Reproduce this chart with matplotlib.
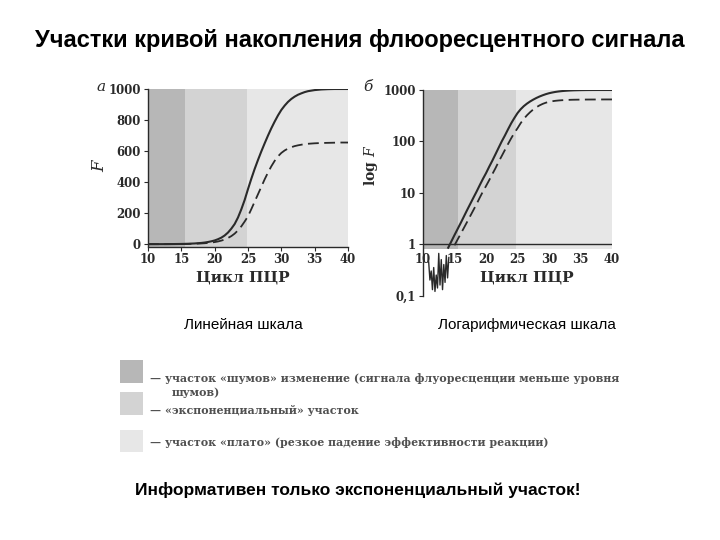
import numpy as np
import matplotlib.pyplot as plt
from matplotlib.patches import Rectangle

# PCR cycles and fluorescence
CYCLE = [10, 11, 12, 13, 14, 15, 16, 17,
         18, 18.5, 19, 19.5, 20, 20.5, 21, 21.5, 22, 22.5, 23, 23.5, 24, 24.5, 25, 25.5,
         26, 26.5, 27, 27.5, 28, 28.5, 29, 29.5, 30, 30.5, 31, 31.5, 32, 32.5, 33, 33.5, 34,
         35, 36, 37, 38, 39, 40]
F_SOLID = [0.08, 0.14, 0.25, 0.45, 0.85, 1.5, 2.6, 4.6,
           8, 10.5, 14, 18.5, 24, 32, 42, 56, 75, 100, 130, 172, 225, 285, 355, 422,
           485, 543, 598, 650, 700, 747, 790, 830, 865, 893, 917, 936, 951, 963, 972, 980, 986,
           993, 997, 999, 1000, 1000, 1000]
F_DASHED = [0.03, 0.06, 0.1, 0.3, 0.55, 0.95, 1.6, 2.7,
            4.6, 6, 8, 10.5, 13.5, 17.5, 23, 30, 40, 52, 68, 89, 115, 146, 180, 226,
            274, 322, 370, 418, 462, 502, 537, 566, 588, 604, 616, 625, 632, 637, 641, 645, 647,
            650, 652, 653, 654, 655, 655]

# noise below the detection level (log panel)
NOISE_CYCLE = [10.9, 11.1, 11.3, 11.5, 11.7, 11.9, 12.1, 12.3, 12.5, 12.7, 12.9, 13.1, 13.3, 13.5, 13.7, 13.9, 14.1]
NOISE_F = [0.45, 0.2, 0.3, 0.13, 0.35, 0.12, 0.25, 0.14, 0.66, 0.16, 0.5, 0.13, 0.4, 0.18, 0.6, 0.22, 0.55]

# zones: noise, exponential, plateau
ZONE_EDGES = [10, 15.5, 24.8, 40]
ZONE_COLORS = ['#b7b7b7', '#d3d3d3', '#e7e7e7']
ZONE_TEXT = ['— участок «шумов» изменение (сигнала флуоресценции меньше уровня',
             '— «экспоненциальный» участок',
             '— участок «плато» (резкое падение эффективности реакции)']

LIN_TICKS = [0, 200, 400, 600, 800, 1000]
LOG_TICKS = [0.1, 1, 10, 100, 1000]
LOG_LABELS = ['0,1', '1', '10', '100', '1000']
X_TICKS = [10, 15, 20, 25, 30, 35, 40]

W, H = 720, 540
plt.rcParams['mathtext.fontset'] = 'dejavuserif'
SERIF = 'DejaVu Serif'
INK = '#2a2a2a'
GREY_TXT = '#505050'

fig = plt.figure(figsize=(W / 100, H / 100), dpi=100)

def box(x0, y0, x1, y1):
    return [x0 / W, 1 - y1 / H, (x1 - x0) / W, (y1 - y0) / H]

def fx(x): return x / W
def fy(y): return 1 - y / H

def style_ax(ax):
    for s in ['top', 'right']:
        ax.spines[s].set_visible(False)
    for s in ['left', 'bottom']:
        ax.spines[s].set_color(INK)
        ax.spines[s].set_linewidth(1.0)
    ax.tick_params(length=3, width=0.8, color=INK, pad=2, labelsize=8.5)
    for lab in ax.get_xticklabels() + ax.get_yticklabels():
        lab.set_fontfamily(SERIF)
        lab.set_fontweight('bold')
        lab.set_color(INK)

# --- linear panel
ax1 = fig.add_axes(box(148, 89, 348, 246.5))
ax1.set_xlim(10, 40)
ax1.set_ylim(-15, 1000)
for i, c in enumerate(ZONE_COLORS):
    ax1.axvspan(ZONE_EDGES[i], ZONE_EDGES[i + 1], color=c, lw=0, zorder=0)
ax1.plot(CYCLE, F_SOLID, color=INK, lw=1.5)
ax1.plot(CYCLE, F_DASHED, color=INK, lw=1.3, dashes=(6, 3))
ax1.set_xticks(X_TICKS)
ax1.set_yticks(LIN_TICKS)
style_ax(ax1)
ax1.set_xlabel('Цикл ПЦР', fontfamily=SERIF, fontweight='bold', fontsize=11, color=INK)
ax1.xaxis.set_label_coords(0.475, -0.155)
ax1.set_ylabel('$F$', fontsize=12, color=INK)
ax1.yaxis.set_label_coords(-0.2, 0.52)

# --- log panel
ax2 = fig.add_axes(box(423, 90, 612, 295.5))
ax2.set_yscale('log')
ax2.set_xlim(10, 40)
ax2.set_ylim(0.1, 1000)
for i, c in enumerate(ZONE_COLORS):
    ax2.fill_between([ZONE_EDGES[i], ZONE_EDGES[i + 1]], 0.8, 1000, color=c, lw=0, zorder=0)
s = np.array(F_SOLID, dtype=float)
d = np.array(F_DASHED, dtype=float)
ax2.plot(CYCLE, np.where(s >= 0.6, s, np.nan), color=INK, lw=1.5)
ax2.plot(CYCLE, np.where(d >= 0.6, d, np.nan), color=INK, lw=1.3, dashes=(6, 3))
ax2.plot(NOISE_CYCLE, NOISE_F, color=INK, lw=1.0)
ax2.axhline(1, color=INK, lw=1.0)
ax2.spines['bottom'].set_position(('data', 0.8))
ax2.spines['bottom'].set_visible(False)
ax2.set_xticks(X_TICKS)
ax2.set_yticks(LOG_TICKS)
ax2.set_yticklabels(LOG_LABELS)
ax2.minorticks_off()
style_ax(ax2)
ax2.tick_params(axis='x', length=0, pad=3)
ax2.set_xlabel('Цикл ПЦР', fontfamily=SERIF, fontweight='bold', fontsize=11, color=INK)
ax2.xaxis.set_label_coords(0.55, 0.12)
ax2.set_ylabel('log $F$', fontfamily=SERIF, fontweight='bold', fontsize=10, color=INK)
ax2.yaxis.set_label_coords(-0.225, 0.635)

# panel letters
fig.text(fx(101), fy(87), 'а', fontfamily=SERIF, style='italic', fontsize=11, color=INK, ha='center', va='center')
fig.text(fx(368), fy(87), 'б', fontfamily=SERIF, style='italic', fontsize=11, color=INK, ha='center', va='center')

# titles and captions
fig.text(0.5, fy(40), 'Участки кривой накопления флюоресцентного сигнала',
         fontfamily='Liberation Sans', fontweight='bold', fontsize=17, ha='center', va='center')
fig.text(fx(243), fy(325), 'Линейная шкала', fontfamily='Liberation Sans', fontsize=11, ha='center', va='center')
fig.text(fx(527), fy(325), 'Логарифмическая шкала', fontfamily='Liberation Sans', fontsize=11, ha='center', va='center')
fig.text(fx(358), fy(490), 'Информативен только экспоненциальный участок!',
         fontfamily='Liberation Sans', fontweight='bold', fontsize=12.5, ha='center', va='center')

# legend of zones
SQ = [(360, 383), (392, 415), (430, 452)]
TXT_Y = [378, 411, 443]
for (y0, y1), c, t, ty in zip(SQ, ZONE_COLORS, ZONE_TEXT, TXT_Y):
    fig.patches.append(Rectangle((fx(120), fy(y1)), fx(143) - fx(120), fy(y0) - fy(y1),
                                 transform=fig.transFigure, color=c, lw=0))
    fig.text(fx(150), fy(ty), t, fontfamily=SERIF, fontweight='bold', fontsize=7.9,
             color=GREY_TXT, ha='left', va='center')
fig.text(fx(172), fy(393), 'шумов)', fontfamily=SERIF, fontweight='bold', fontsize=7.9,
         color=GREY_TXT, ha='left', va='center')

fig.savefig('out.png', dpi=100)
